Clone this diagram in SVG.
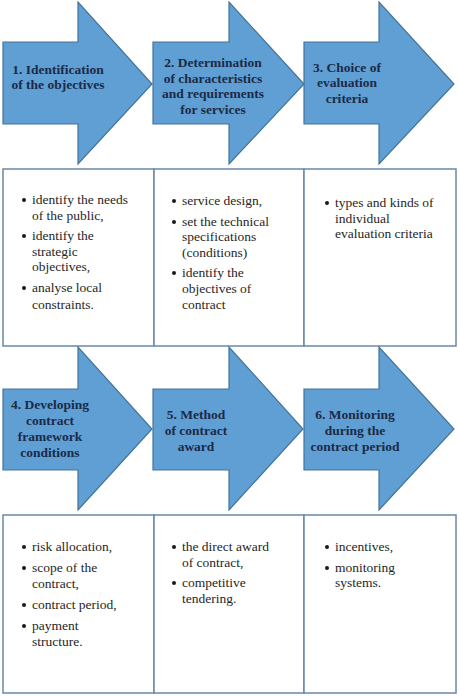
<svg xmlns="http://www.w3.org/2000/svg" width="459" height="696" viewBox="0 0 459 696">
<style>
.arrow{fill:#5f9fd3;stroke:#44739b;stroke-width:1.2;stroke-linejoin:miter}
.box{fill:#ffffff;stroke:#6a89a8;stroke-width:1.5}
.ht{font-family:'Liberation Serif',serif;font-weight:bold;font-size:13.5px;fill:#1c2a47;text-anchor:middle}
.bt{font-family:'Liberation Serif',serif;font-size:13.5px;fill:#262626}
.dot{fill:#1a1a1a}
</style>
<rect width="459" height="696" fill="#ffffff"/>
<g id="step1">
<polygon class="arrow" points="3,42 78,42 78,2 152,84 78,164 78,124 3,124"/>
<text class="ht" x="58" y="74">1. Identification</text>
<text class="ht" x="58" y="89">of the objectives</text>
</g>
<g id="step2">
<polygon class="arrow" points="153,42 229,42 229,2 304,84 229,164 229,124 153,124"/>
<text class="ht" x="213" y="67">2. Determination</text>
<text class="ht" x="213" y="83">of characteristics</text>
<text class="ht" x="213" y="98">and requirements</text>
<text class="ht" x="213" y="114">for services</text>
</g>
<g id="step3">
<polygon class="arrow" points="304,42 379,42 379,2 454,84 379,164 379,124 304,124"/>
<text class="ht" x="347" y="72">3. Choice of</text>
<text class="ht" x="347" y="87">evaluation</text>
<text class="ht" x="347" y="103">criteria</text>
</g>
<g id="box1">
<rect class="box" x="3" y="169" width="151" height="177"/>
<circle class="dot" cx="24" cy="200" r="2"/>
<text class="bt" x="32" y="204">identify the needs</text>
<text class="bt" x="32" y="220">of the public,</text>
<circle class="dot" cx="24" cy="236" r="2"/>
<text class="bt" x="32" y="240">identify the</text>
<text class="bt" x="32" y="256">strategic</text>
<text class="bt" x="32" y="271">objectives,</text>
<circle class="dot" cx="24" cy="288" r="2"/>
<text class="bt" x="32" y="292">analyse local</text>
<text class="bt" x="32" y="309">constraints.</text>
</g>
<g id="box2">
<rect class="box" x="154" y="169" width="150" height="177"/>
<circle class="dot" cx="174" cy="201" r="2"/>
<text class="bt" x="182" y="205">service design,</text>
<circle class="dot" cx="174" cy="222" r="2"/>
<text class="bt" x="182" y="226">set the technical</text>
<text class="bt" x="182" y="241">specifications</text>
<text class="bt" x="182" y="257">(conditions)</text>
<circle class="dot" cx="174" cy="273" r="2"/>
<text class="bt" x="182" y="277">identify the</text>
<text class="bt" x="182" y="293">objectives of</text>
<text class="bt" x="182" y="309">contract</text>
</g>
<g id="box3">
<rect class="box" x="304" y="169" width="152" height="177"/>
<circle class="dot" cx="327" cy="203" r="2"/>
<text class="bt" x="335" y="207">types and kinds of</text>
<text class="bt" x="335" y="223">individual</text>
<text class="bt" x="335" y="238">evaluation criteria</text>
</g>
<g id="step4">
<polygon class="arrow" points="3,389 78,389 78,347 152,429 78,510 78,470 3,470"/>
<text class="ht" x="50" y="409">4. Developing</text>
<text class="ht" x="50" y="425">contract</text>
<text class="ht" x="50" y="441">framework</text>
<text class="ht" x="50" y="457">conditions</text>
</g>
<g id="step5">
<polygon class="arrow" points="153,389 229,389 229,347 303,429 229,510 229,470 153,470"/>
<text class="ht" x="196" y="419">5. Method</text>
<text class="ht" x="196" y="435">of contract</text>
<text class="ht" x="196" y="451">award</text>
</g>
<g id="step6">
<polygon class="arrow" points="304,389 379,389 379,347 454,429 379,510 379,470 304,470"/>
<text class="ht" x="355" y="419">6. Monitoring</text>
<text class="ht" x="355" y="435">during the</text>
<text class="ht" x="355" y="451">contract period</text>
</g>
<g id="box4">
<rect class="box" x="3" y="515" width="151" height="178"/>
<circle class="dot" cx="24" cy="547" r="2"/>
<text class="bt" x="32" y="551">risk allocation,</text>
<circle class="dot" cx="24" cy="568" r="2"/>
<text class="bt" x="32" y="572">scope of the</text>
<text class="bt" x="32" y="588">contract,</text>
<circle class="dot" cx="24" cy="605" r="2"/>
<text class="bt" x="32" y="609">contract period,</text>
<circle class="dot" cx="24" cy="626" r="2"/>
<text class="bt" x="32" y="630">payment</text>
<text class="bt" x="32" y="646">structure.</text>
</g>
<g id="box5">
<rect class="box" x="154" y="515" width="150" height="178"/>
<circle class="dot" cx="174" cy="547" r="2"/>
<text class="bt" x="182" y="551">the direct award</text>
<text class="bt" x="182" y="567">of contract,</text>
<circle class="dot" cx="174" cy="583" r="2"/>
<text class="bt" x="182" y="587">competitive</text>
<text class="bt" x="182" y="603">tendering.</text>
</g>
<g id="box6">
<rect class="box" x="304" y="515" width="152" height="178"/>
<circle class="dot" cx="327" cy="547" r="2"/>
<text class="bt" x="335" y="551">incentives,</text>
<circle class="dot" cx="327" cy="568" r="2"/>
<text class="bt" x="335" y="572">monitoring</text>
<text class="bt" x="335" y="587">systems.</text>
</g>
<g id="connectors"/>
</svg>
